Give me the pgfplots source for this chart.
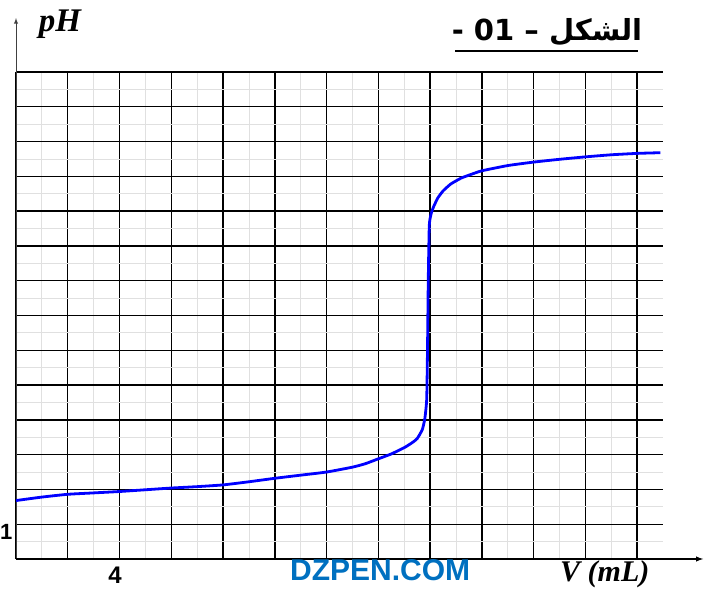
\documentclass[border=0pt]{standalone}
\usepackage{pgfplots}
\pgfplotsset{compat=1.18}
\usepackage{fontspec}
\setmainfont{Liberation Sans}
\newfontfamily\seriffont{Liberation Serif}
\newfontfamily\arabicfont[Script=Arabic]{DejaVu Sans}
\TeXXeTstate=1
\definecolor{wmblue}{RGB}{0,112,192}
\begin{document}
\begin{tikzpicture}[x=1pt,y=1pt]
\useasboundingbox (0,0) rectangle (704,591);
\begin{axis}[
  at={(16pt,32pt)}, anchor=south west,
  scale only axis, width=647pt, height=487pt,
  xmin=0, xmax=25, ymin=0, ymax=14,
  axis line style={draw=none},
  tick style={draw=none},
  xtick={0,2,...,24}, ytick={0,1,...,14},
  minor xtick={1,3,...,23},
  minor ytick={0.5,1.5,...,13.5},
  xticklabels={}, yticklabels={},
  grid=both,
  major grid style={black, line width=1.4pt},
  minor grid style={black!12, line width=0.8pt},
  clip=false,
]
\draw[black!75, line width=0.9pt, -latex] (axis cs:0,0) -- (axis cs:0,15.55);
\draw[black, line width=1.4pt, -latex] (axis cs:0,0) -- (axis cs:26.55,0);
\addplot[blue, line width=2.8pt, smooth, tension=0.3] coordinates {
(0,1.68) (1,1.78) (2,1.86) (3,1.90) (4,1.94) (5,1.99) (6,2.04) (7,2.08)
(8,2.13) (9,2.22) (10,2.32) (11,2.41) (12,2.50) (13,2.64) (13.5,2.74)
(14,2.88) (14.5,3.02) (15,3.20) (15.3,3.34) (15.5,3.46) (15.7,3.72)
(15.8,4.05) (15.87,4.6) (15.9,6.0) (15.93,8.0) (15.97,9.6) (16.05,9.95)
(16.15,10.15) (16.3,10.38) (16.5,10.58) (16.8,10.78) (17.2,10.95)
(17.6,11.06) (18,11.16) (19,11.31) (20,11.41) (21,11.49) (22,11.56)
(23,11.62) (24,11.66) (24.9,11.68)
};
\end{axis}
\node[anchor=base, inner sep=0pt, font=\fontsize{24}{27}\selectfont\bfseries] at (115,7) {4};
\node[anchor=west, inner sep=0pt, font=\fontsize{22}{26}\selectfont\bfseries] at (0,59) {1};
\node[anchor=center] at (60,567) {\fontsize{33}{36}\selectfont\seriffont\bfseries\itshape pH};
\node[anchor=center] at (547,559) {\fontsize{29}{33}\selectfont\arabicfont\bfseries\beginR الشكل – \beginL 01\endL{} -\endR};
\draw[black, line width=2.2pt] (455,540) -- (638,540);
\node[anchor=base west, inner sep=0pt, text=wmblue] at (290,10) {\fontsize{30}{34}\selectfont\bfseries DZPEN.COM};
\node[anchor=base west, inner sep=0pt] at (560,9) {\fontsize{30}{34}\selectfont\seriffont\bfseries\itshape V (mL)};
\end{tikzpicture}
\end{document}
